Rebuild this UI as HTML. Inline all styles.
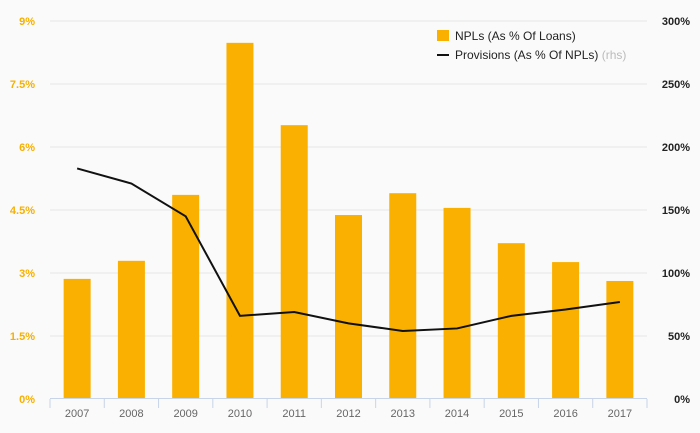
<!DOCTYPE html>
<html><head><meta charset="utf-8"><style>
body{margin:0;background:#fafafa;font-family:"Liberation Sans",sans-serif}
svg{display:block}
</style></head><body>
<svg id="c" width="700" height="433"></svg>
<script>
const categories=["2007","2008","2009","2010","2011","2012","2013","2014","2015","2016","2017"];
const nplValues=[2.86,3.29,4.86,8.48,6.52,4.38,4.9,4.55,3.71,3.26,2.81];
const provisionValues=[183,171,145,66,69,60,54,56,66,71,77];
const leftTicks=[0,1.5,3,4.5,6,7.5,9];
const leftTickLabels=["0%","1.5%","3%","4.5%","6%","7.5%","9%"];
const rightTicks=[0,50,100,150,200,250,300];
const rightTickLabels=["0%","50%","100%","150%","200%","250%","300%"];
const NS="http://www.w3.org/2000/svg";
const svg=document.getElementById('c');
const x0=50,x1=647,yB=399,yT=21;
const bw=(x1-x0)/categories.length;
const xc=i=>x0+bw*(i+0.5);
const yL=v=>yB-(v/9)*(yB-yT);
const yR=v=>yB-(v/300)*(yB-yT);
function mk(t,a,txt){const e=document.createElementNS(NS,t);for(const k in a)e.setAttribute(k,a[k]);if(txt!==undefined)e.textContent=txt;svg.appendChild(e);return e;}
leftTicks.forEach((v,i)=>{
 if(v>0){const g=mk('line',{x1:x0,x2:x1,y1:yL(v),y2:yL(v),stroke:'#e6e6e6','stroke-width':1});
 
 }
 const t=mk('text',{x:35,y:yL(v)+4,'text-anchor':'end','font-size':11,fill:'#f6b000','font-weight':'bold'},leftTickLabels[i]);
 
 
});
rightTicks.forEach((v,i)=>{
 const t=mk('text',{x:690,y:yR(v)+4,'text-anchor':'end','font-size':11,fill:'#222','font-weight':'bold'},rightTickLabels[i]);
 
 
});
nplValues.forEach((v,i)=>{
 const r=mk('rect',{x:xc(i)-13.5,y:yL(v),width:27,height:yB-yL(v),fill:'#f9b000'});
 
 
});
const ax=mk('line',{x1:x0,x2:x1,y1:yB-0.5,y2:yB-0.5,stroke:'#c8d4e8','stroke-width':1});


for(let i=0;i<=categories.length;i++){
 const tk=mk('line',{x1:x0+bw*i,x2:x0+bw*i,y1:yB,y2:yB+9,stroke:'#c8d4e8','stroke-width':1});
 
 
}
categories.forEach((c,i)=>{
 const t=mk('text',{x:xc(i),y:417,'text-anchor':'middle','font-size':11,fill:'#666'},c);
 
 
});
const pts=provisionValues.map((v,i)=>xc(i)+','+yR(v)).join(' ');
const pl=mk('polyline',{points:pts,fill:'none',stroke:'#111','stroke-width':2});


const l1=mk('rect',{x:437,y:30,width:12,height:11,fill:'#f9b000'});


const t1=mk('text',{x:455,y:40,'font-size':12,fill:'#222'},'NPLs (As % Of Loans)');


const l2=mk('line',{x1:437,x2:449,y1:55,y2:55,stroke:'#111','stroke-width':2});


const t2=mk('text',{x:455,y:59,'font-size':12,fill:'#222'},'Provisions (As % Of NPLs) ');


const ts=document.createElementNS(NS,'tspan');ts.setAttribute('fill','#bbb');ts.textContent='(rhs)';t2.appendChild(ts);
</script>
</body></html>
